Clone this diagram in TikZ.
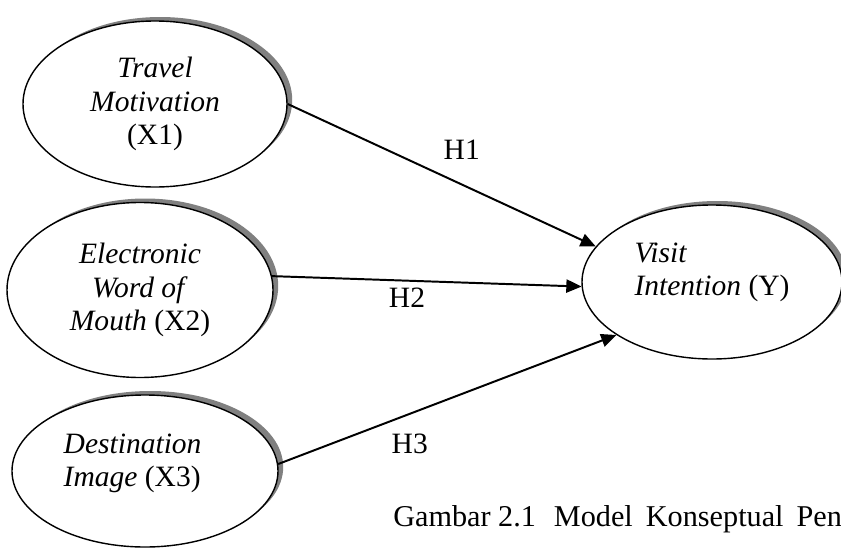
\documentclass[tikz,border=0pt]{standalone}
\usepackage{fontspec}
\setmainfont{Liberation Serif}
\usepackage{tikz}
\usetikzlibrary{arrows.meta,shapes.geometric,shadows}

\begin{document}
\begin{tikzpicture}[
  var/.style={draw, ellipse, fill=white, line width=1pt, align=center,
    font=\fontsize{21}{23.6}\selectfont,
    drop shadow={shadow xshift=0.13cm, shadow yshift=0.1cm, fill=black!50, opacity=1}},
  link/.style={line width=1.4pt, -{Triangle[length=0.38cm, width=0.33cm]}},
  hyp/.style={inner sep=0pt, font=\fontsize{21}{23.6}\selectfont}]
  \useasboundingbox (0,0) rectangle (21.025,13.725);
  \clip (0,0) rectangle (21.025,13.725);
  % constructs
  \node[var, minimum width=6.6cm, minimum height=4.15cm] (x1) at (3.875,11.125)
    {\textit{Travel}\\ \textit{Motivation}\\ (X1)};
  \node[var, minimum width=6.65cm, minimum height=4.375cm] (x2) at (3.5,6.475)
    {\textit{Electronic}\\ \textit{Word of}\\ \textit{Mouth} (X2)};
  \node[var, minimum width=6.65cm, minimum height=3.8cm,
    label={[hyp, align=left, xshift=-0.31cm, yshift=0.19cm]center:\textit{Destination}\\ \textit{Image} (X3)}]
    (x3) at (3.625,1.95) {};
  \node[var, minimum width=6.5cm, minimum height=3.85cm,
    label={[hyp, align=left, yshift=0.24cm]center:\textit{Visit}\\ \textit{Intention} (Y)}]
    (y) at (17.8,6.675) {};
  % hypotheses
  \draw[link] (x1.east) -- (y.163) node[hyp, pos=0.565, above=0.61cm] (h1) {H1};
  \draw[link] (x2.6) -- (y.182) node[hyp, pos=0.436, below=0.16cm] (h2) {H2};
  \draw[link] (x3.3) -- (y.209) node[hyp, pos=0.389, below=0.47cm] (h3) {H3};
  % caption
  \node[hyp, anchor=base west, font=\fontsize{21.5}{24}\selectfont] (cap) at (9.825,0.575)
    {Gambar 2.1\hspace{0.45cm}\makebox[7.2cm][s]{Model Konseptual Pen}};
\end{tikzpicture}
\end{document}
